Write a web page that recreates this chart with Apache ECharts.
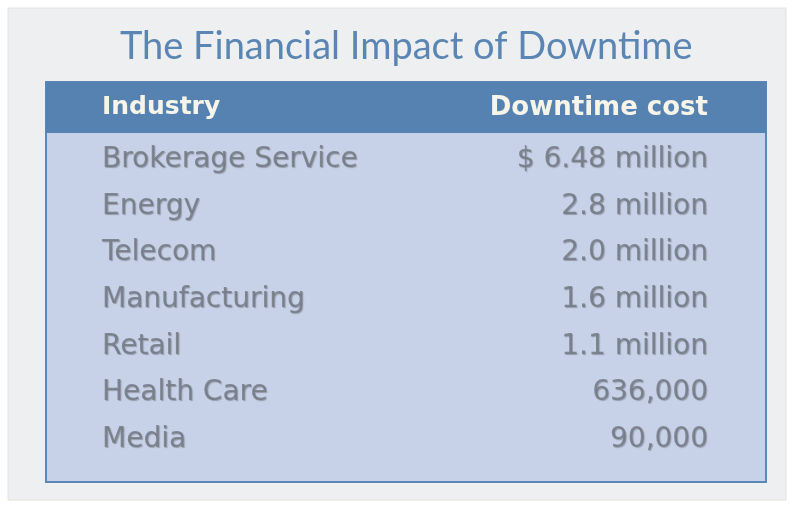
<!DOCTYPE html>
<html>
<head>
<meta charset="utf-8">
<script src="https://cdn.jsdelivr.net/npm/echarts@6/dist/echarts.min.js"></script>
<style>
  html, body { margin: 0; padding: 0; background: #ffffff; }
  #chart { width: 792px; height: 509px; }
</style>
</head>
<body>
<div id="chart"></div>
<script>
// table contents
const headers = ['Industry', 'Downtime cost']
const industries = ['Brokerage Service', 'Energy', 'Telecom', 'Manufacturing', 'Retail', 'Health Care', 'Media']
const costs = [6480000, 2800000, 2000000, 1600000, 1100000, 636000, 90000]
const costLabels = ['$ 6.48 million', '2.8 million', '2.0 million', '1.6 million', '1.1 million', '636,000', '90,000']

const chart = echarts.init(document.getElementById('chart'))

const cellFont = {
    fontFamily: 'DejaVu Sans',
    fontSize: 28,
    color: '#6f7781',
    textShadowColor: 'rgba(60,60,70,0.45)',
    textShadowBlur: 1,
    textShadowOffsetX: 1,
    textShadowOffsetY: 1
}

const option = {
    backgroundColor: '#ffffff',
    title: {
        text: 'The Financial Impact of Downtime',
        left: 115,
        top: 23,
        textStyle: {
            fontFamily: 'Lato',
            fontWeight: 'normal',
            fontSize: 38,
            color: '#5b86b4'
        }
    },
    graphic: [
        {
            type: 'rect', z: -10,
            shape: { x: 8, y: 8, width: 778, height: 492 },
            style: { fill: '#eeeff0', stroke: '#e2e2dc', lineWidth: 1 }
        },
        {
            type: 'rect', z: -5,
            shape: { x: 46, y: 82, width: 720, height: 400 },
            style: { fill: '#c7d1e7', stroke: '#5b87b7', lineWidth: 2 }
        },
        {
            type: 'rect', z: -4,
            shape: { x: 46, y: 82, width: 720, height: 51 },
            style: { fill: '#5682b1' }
        },
        {
            type: 'text', left: 102, top: 95,
            style: { text: headers[0], fontFamily: 'DejaVu Sans', fontWeight: 'bold', fontSize: 25, fill: '#f7f4ea' }
        },
        {
            type: 'text', right: 84, top: 95,
            style: { text: headers[1], fontFamily: 'DejaVu Sans', fontWeight: 'bold', fontSize: 26, fill: '#f7f4ea' }
        }
    ],
    grid: { left: 102, right: 84, top: 136.5, bottom: 46 },
    xAxis: { type: 'value', min: 0, max: 1, show: false },
    yAxis: { type: 'category', data: industries, inverse: true, show: false },
    series: [
        {
            type: 'scatter',
            symbolSize: 0,
            data: industries.map((name, i) => [0, i]),
            label: {
                show: true,
                position: 'inside',
                align: 'left',
                formatter: p => industries[p.dataIndex],
                ...cellFont
            }
        },
        {
            type: 'scatter',
            symbolSize: 0,
            data: costs.map((v, i) => ({ value: [1, i], cost: v })),
            label: {
                show: true,
                position: 'inside',
                align: 'right',
                formatter: p => costLabels[p.dataIndex],
                ...cellFont
            }
        }
    ]
}

chart.setOption(option)
</script>
</body>
</html>
